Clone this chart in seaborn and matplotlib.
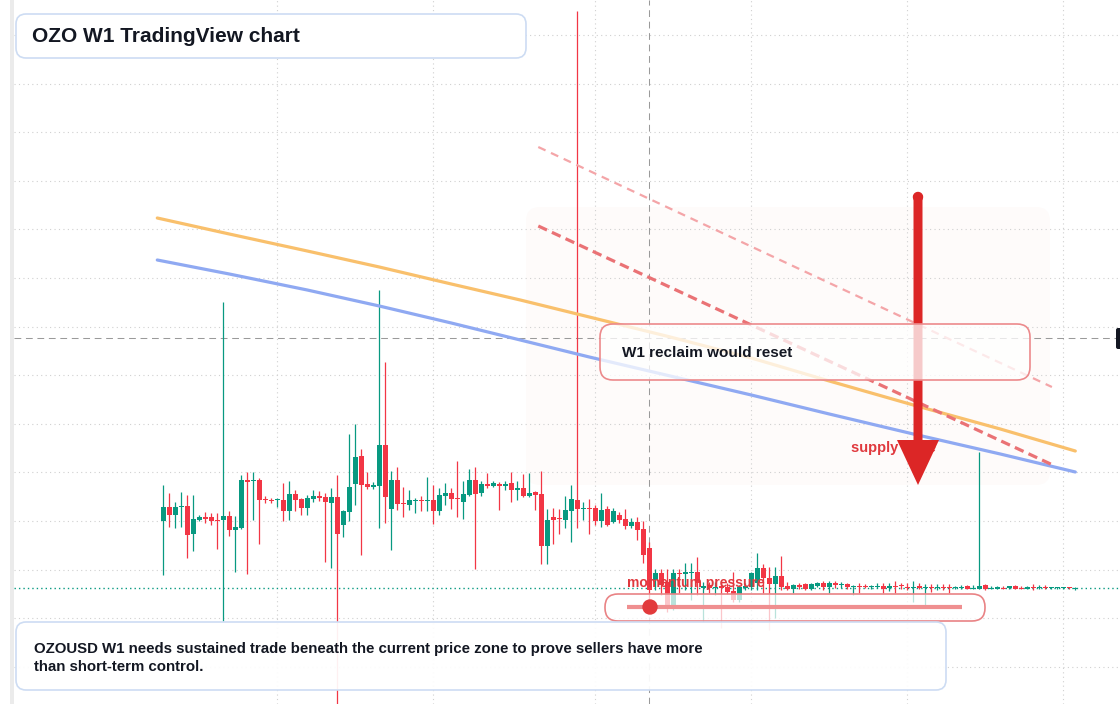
import numpy as np
import pandas as pd
import matplotlib
matplotlib.use("Agg")
import matplotlib.pyplot as plt
import matplotlib.patches as mpatches
from matplotlib.transforms import IdentityTransform
import seaborn as sns

# OZOUSD weekly candles, prices in 1e-4 USD
open_ = [478, 506, 490, 506, 508, 452, 480, 486, 486, 480,
         480, 488, 460, 464, 560, 558, 560, 522, 520, 520,
         520, 498, 532, 522, 504, 522, 528, 526, 514, 526,
         470, 496, 552, 608, 552, 546, 548, 630, 502, 560,
         514, 510, 518, 520, 518, 520, 498, 528, 534, 524,
         516, 530, 560, 534, 552, 548, 552, 548, 554, 540,
         544, 528, 536, 532, 428, 486, 484, 480, 498, 520,
         502, 504, 504, 478, 502, 476, 490, 482, 468, 476,
         462, 424, 360, 374, 356, 306, 374, 372, 374, 376,
         344, 350, 344, 348, 346, 338, 320, 344, 346, 354,
         384, 364, 352, 368, 348, 342, 350, 352, 342, 348,
         354, 346, 354, 350, 352, 346, 348, 348, 346, 346,
         348, 344, 348, 350, 346, 344, 348, 344, 346, 344,
         346, 346, 344, 344, 348, 342, 342, 350, 342, 342,
         344, 344, 348, 344, 342, 346, 344, 346, 344, 344,
         344, 346, 342]
high = [550, 534, 516, 536, 530, 530, 490, 496, 494, 494,
        916, 498, 488, 570, 576, 576, 564, 528, 524, 524,
        554, 558, 540, 524, 530, 540, 538, 534, 544, 570,
        500, 652, 672, 622, 576, 556, 940, 796, 578, 586,
        546, 540, 524, 528, 566, 550, 544, 554, 544, 598,
        558, 582, 586, 558, 574, 558, 556, 558, 576, 558,
        572, 574, 538, 578, 502, 504, 502, 528, 550, 1498,
        516, 522, 510, 534, 508, 504, 496, 502, 484, 486,
        478, 436, 382, 382, 382, 382, 382, 394, 394, 406,
        356, 356, 356, 356, 354, 376, 350, 354, 376, 414,
        392, 386, 386, 408, 356, 352, 354, 354, 354, 356,
        358, 358, 358, 356, 354, 350, 354, 352, 350, 354,
        354, 354, 358, 354, 354, 358, 354, 352, 352, 352,
        352, 352, 348, 350, 350, 350, 616, 352, 348, 348,
        348, 348, 350, 348, 348, 352, 350, 350, 346, 346,
        346, 346, 346]
low = [370, 466, 464, 466, 404, 418, 478, 474, 470, 422,
       278, 448, 376, 462, 372, 480, 432, 514, 514, 506,
       478, 480, 498, 490, 490, 516, 518, 396, 384, 40,
       446, 478, 510, 410, 542, 542, 464, 474, 420, 500,
       486, 500, 494, 498, 498, 472, 490, 510, 502, 486,
       482, 528, 382, 528, 544, 546, 500, 540, 516, 520,
       526, 526, 500, 392, 392, 432, 452, 464, 436, 464,
       480, 452, 470, 466, 468, 474, 474, 462, 464, 440,
       394, 320, 340, 330, 296, 300, 334, 340, 320, 330,
       276, 334, 330, 264, 332, 316, 316, 340, 340, 340,
       334, 260, 284, 340, 340, 334, 342, 340, 340, 346,
       340, 334, 344, 344, 342, 330, 334, 344, 342, 344,
       334, 338, 334, 342, 340, 316, 342, 306, 336, 340,
       340, 334, 342, 342, 342, 342, 342, 340, 342, 342,
       342, 342, 342, 342, 342, 340, 342, 342, 342, 342,
       342, 342, 340]
close = [506, 490, 506, 508, 450, 482, 486, 482, 478, 478,
         488, 460, 466, 560, 556, 560, 520, 520, 518, 522,
         498, 532, 520, 504, 524, 528, 524, 516, 526, 452,
         498, 546, 606, 550, 546, 550, 630, 526, 560, 512,
         512, 520, 520, 518, 520, 498, 530, 534, 522, 522,
         532, 560, 532, 552, 548, 554, 548, 552, 540, 544,
         528, 534, 530, 428, 480, 480, 482, 500, 522, 502,
         504, 502, 478, 500, 470, 498, 480, 468, 476, 460,
         410, 340, 374, 350, 306, 374, 372, 376, 376, 354,
         348, 344, 346, 344, 336, 320, 346, 348, 374, 384,
         364, 352, 368, 346, 342, 350, 346, 342, 352, 354,
         346, 354, 350, 352, 346, 348, 346, 346, 348, 348,
         342, 348, 346, 348, 344, 346, 344, 346, 344, 346,
         344, 344, 346, 346, 342, 344, 348, 342, 344, 346,
         342, 348, 342, 342, 346, 344, 346, 344, 346, 346,
         346, 344, 344]

# moving averages (candle index, price)
ma_idx = [-1, 11, 24, 36, 48, 59.5, 71, 84.5, 98, 111, 125, 139.5, 152]
ma_fast = [1084, 1052, 1018, 986, 952, 920, 886, 846, 804, 758, 710, 662, 618]
ma_slow = [1000, 972, 940, 908, 874, 840, 806, 768, 730, 692, 652, 612, 576]

# trend lines
upper_trend_idx = [62.5, 148.1]
upper_trend = [1226, 746]
lower_trend_idx = [62.5, 148.6]
lower_trend = [1068, 588]

last_price = 344
crosshair_idx = 81
crosshair_price = 844

SCALE = 10000.0
GREEN = "#089981"
RED = "#f23645"

df = pd.DataFrame({"open": open_, "high": high, "low": low, "close": close}) / SCALE
df["x"] = np.arange(len(df))
df["up"] = df["close"] >= df["open"]
df["col"] = np.where(df["up"], GREEN, RED)

sns.set_theme(style="white")
plt.rcParams["font.family"] = ["Liberation Sans", "DejaVu Sans"]

W, H = 1120, 704
fig = plt.figure(figsize=(W / 100, H / 100), dpi=100)
fig.patch.set_facecolor("white")
ax = fig.add_axes([14 / W, 0, (W - 14) / W, 1])
ax.set_facecolor("white")
ax.set_xlim(-24.88, 159.45)
ax.set_ylim(112 / SCALE, 1520 / SCALE)

# grid
ax.set_xticks([19, 45, 72, 98, 124, 150])
ax.set_yticks([(1450 - 97.2 * k) / SCALE for k in range(14)])
ax.grid(True, color="#d0d0d0", lw=0.8, ls=(0, (1, 3)))
ax.set_axisbelow(True)
ax.tick_params(length=0, labelbottom=False, labelleft=False)
for s in ax.spines.values():
    s.set_visible(False)


def px(x, y):
    return x, H - y


def rbox(x0, y0, x1, y1, r, ec, fc, z, lw=1.2):
    p = mpatches.FancyBboxPatch(px(x0, y1), x1 - x0, y1 - y0,
                                boxstyle=f"round,pad=0,rounding_size={r}",
                                transform=IdentityTransform(), ec=ec, fc=fc,
                                lw=lw, zorder=z, clip_on=False)
    ax.add_patch(p)


# supply zone shading
rbox(526, 207, 1050, 485, 14, "none", "#fefbfa", 0.1, lw=0)

# crosshair + current price
ax.axhline(crosshair_price / SCALE, color="#9a9a9a", lw=0.75, ls=(0, (6.5, 4.5)), zorder=1)
ax.axvline(crosshair_idx, color="#9a9a9a", lw=0.75, ls=(0, (6.5, 4.5)), zorder=1)
ax.axhline(last_price / SCALE, color=GREEN, lw=1.0, ls=(0, (1, 2.2)), zorder=1)

# candles
body = (df["close"] - df["open"]).abs().clip(lower=2 / SCALE)
bottom = df[["open", "close"]].min(axis=1)
ax.vlines(df["x"], df["low"], df["high"], colors=df["col"], lw=0.9, zorder=2)
ax.bar(df["x"], body, bottom=bottom, width=0.8, color=df["col"], linewidth=0, zorder=2.5)

# moving averages
sns.lineplot(x=ma_idx, y=np.array(ma_fast) / SCALE, ax=ax, color="#f9c06c", lw=2.3, zorder=3)
sns.lineplot(x=ma_idx, y=np.array(ma_slow) / SCALE, ax=ax, color="#8fa9f2", lw=2.3, zorder=3)

# trend lines
ax.plot(upper_trend_idx, np.array(upper_trend) / SCALE, color="#f4a5a8", lw=1.6,
        ls=(0, (3.6, 2.7)), zorder=3)
ax.plot(lower_trend_idx, np.array(lower_trend) / SCALE, color="#ea7275", lw=2.3,
        ls=(0, (3.0, 1.7)), zorder=3)

# supply zone label + arrow
ax.text(*px(851, 448), "supply zone", transform=IdentityTransform(), color="#e0393e",
        fontsize=10.5, fontweight="bold", va="center", ha="left", zorder=4)
arrow = mpatches.FancyArrow(918, H - 195, 0, -(485 - 195), width=9, head_width=42,
                            head_length=45, length_includes_head=True, color="#dc2626",
                            lw=0, transform=IdentityTransform(), zorder=5, clip_on=False)
ax.add_patch(arrow)
ax.add_patch(mpatches.Circle(px(918, 197), 4.5, color="#dc2626", transform=IdentityTransform(),
                             zorder=5, clip_on=False))

# reclaim box
rbox(600, 324, 1030, 380, 13, "#ec8a8c", (1, 1, 1, 0.76), 6)
ax.text(*px(622, 353), "W1 reclaim would reset", transform=IdentityTransform(),
        color="#131722", fontsize=11, fontweight="bold", va="center", zorder=7)

# momentum pill
rbox(605, 594, 985, 621, 13, "#e98385", (1, 1, 1, 0.72), 6)
ax.plot([627, 962], [H - 607, H - 607], transform=IdentityTransform(), color="#ef8f90",
        lw=3, solid_capstyle="butt", zorder=6.5, clip_on=False)
ax.add_patch(mpatches.Circle(px(650, 607), 7, color="#e23a3c", transform=IdentityTransform(),
                             zorder=6.6, clip_on=False))
ax.text(*px(627, 583), "momentum pressure", transform=IdentityTransform(), color="#e0393e",
        fontsize=10, fontweight="bold", va="center", ha="left", zorder=6.7)

# title and note boxes
rbox(16, 14, 526, 58, 10, "#cddcf3", "white", 8)
ax.text(*px(32, 36), "OZO W1 TradingView chart", transform=IdentityTransform(),
        color="#131722", fontsize=15, fontweight="bold", va="center", zorder=9)
rbox(16, 622, 946, 690, 10, "#cddcf3", (1, 1, 1, 0.93), 8)
ax.text(*px(34, 658), "OZOUSD W1 needs sustained trade beneath the current price zone to prove sellers have more\n"
        "than short-term control.", transform=IdentityTransform(), color="#131722",
        fontsize=10.8, fontweight="bold", va="center", linespacing=1.35, zorder=9)

# left strip and price label stub
fig.add_artist(mpatches.Rectangle((10 / W, 0), 4 / W, 1, transform=fig.transFigure,
                                  color="#ebebeb", lw=0))
rbox(1116, 328, 1128, 349, 2, "none", "#131722", 9, lw=0)

fig.savefig("out.png", dpi=100, facecolor="white")
